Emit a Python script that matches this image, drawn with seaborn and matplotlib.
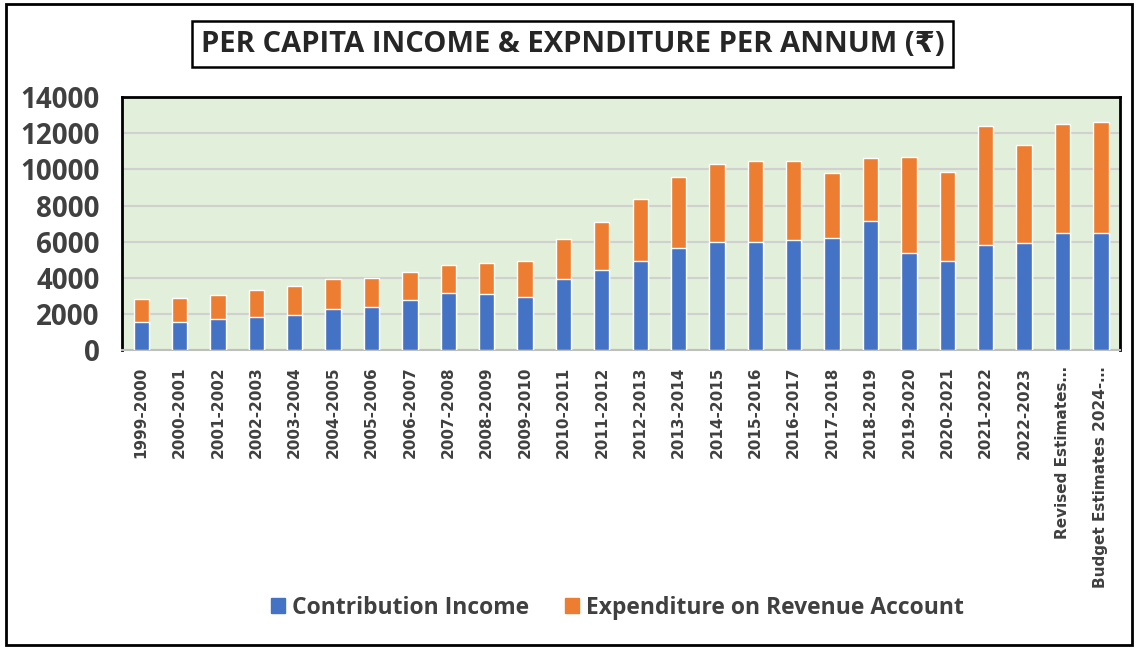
import numpy as np
import pandas as pd
import seaborn as sns
import matplotlib as mpl
mpl.use("Agg")
import matplotlib.pyplot as plt
from matplotlib.patches import Patch, Rectangle

# values
years = ["1999-2000", "2000-2001", "2001-2002", "2002-2003", "2003-2004",
         "2004-2005", "2005-2006", "2006-2007", "2007-2008", "2008-2009",
         "2009-2010", "2010-2011", "2011-2012", "2012-2013", "2013-2014",
         "2014-2015", "2015-2016", "2016-2017", "2017-2018", "2018-2019",
         "2019-2020", "2020-2021", "2021-2022", "2022-2023",
         "Revised Estimates…", "Budget Estimates 2024-…"]
contribution = [1550, 1550, 1700, 1810, 1950, 2250, 2400, 2750, 3130, 3100,
                2910, 3910, 4410, 4920, 5640, 5990, 5990, 6070, 6190, 7120,
                5350, 4900, 5830, 5900, 6490, 6490]
expenditure = [1250, 1330, 1360, 1510, 1570, 1660, 1560, 1550, 1550, 1710,
               2010, 2250, 2650, 3430, 3930, 4330, 4460, 4380, 3620, 3520,
               5360, 4980, 6560, 5460, 6030, 6160]

blue = "#4472C4"
orange = "#ED7D31"
txt = "#404040"

df = pd.DataFrame({"year": years,
                   "contribution": contribution,
                   "expenditure": expenditure})
df["total"] = df["contribution"] + df["expenditure"]

sns.set_style("white")
plt.rcParams["font.family"] = ["Open Sans", "DejaVu Sans"]

fig = plt.figure(figsize=(11.38, 6.48), dpi=100)
ax = fig.add_axes([0.1072, 0.46, 0.877, 0.39])

# stacked: total in orange, contribution drawn over it in blue
sns.barplot(data=df, x="year", y="total", color=orange, width=0.4,
            saturation=1, ax=ax, zorder=3)
sns.barplot(data=df, x="year", y="contribution", color=blue, width=0.4,
            saturation=1, ax=ax, zorder=3)

ax.set_facecolor("#E2EFDA")
ax.set_ylim(0, 14000)
ax.set_xlim(-0.5, len(years) - 0.5)
ax.set_yticks(np.arange(0, 14001, 2000))
ax.yaxis.grid(True, color="#D0D0D0", lw=1.5, zorder=0)
ax.set_axisbelow(True)
ax.set_xlabel("")
ax.set_ylabel("")

for s in ["left", "top", "right"]:
    ax.spines[s].set_color("black")
    ax.spines[s].set_linewidth(2)
ax.spines["bottom"].set_color("#BFBFBF")
ax.spines["bottom"].set_linewidth(1.5)

ax.tick_params(axis="y", length=0, pad=16, labelsize=20, labelcolor=txt)
ax.tick_params(axis="x", length=0, pad=12)
for lab in ax.get_yticklabels():
    lab.set_fontweight("bold")
ax.set_xticks(range(len(years)))
ax.set_xticklabels(years, rotation=90, fontsize=11, fontweight="bold",
                   color=txt, family=["DejaVu Sans"])

fig.text(0.503, 0.932, "PER CAPITA INCOME & EXPNDITURE PER ANNUM (₹)",
         ha="center", va="center", fontsize=21, fontweight="bold", color="#262626",
         bbox=dict(boxstyle="square,pad=0.3", fc="white", ec="black", lw=1.8))

handles = [Patch(color=blue, label="Contribution Income"),
           Patch(color=orange, label="Expenditure on Revenue Account")]
leg = fig.legend(handles=handles, loc="center", bbox_to_anchor=(0.5426, 0.062),
                 ncol=2, frameon=False, handlelength=0.6, handleheight=0.6,
                 handletextpad=0.3, columnspacing=1.6,
                 prop=dict(size=16.5, weight="bold"))
for t in leg.get_texts():
    t.set_color(txt)

fig.patches.append(Rectangle((0.005, 0.004), 0.99, 0.99, transform=fig.transFigure,
                             fill=False, ec="black", lw=2))

fig.savefig("out.png", dpi=100)
